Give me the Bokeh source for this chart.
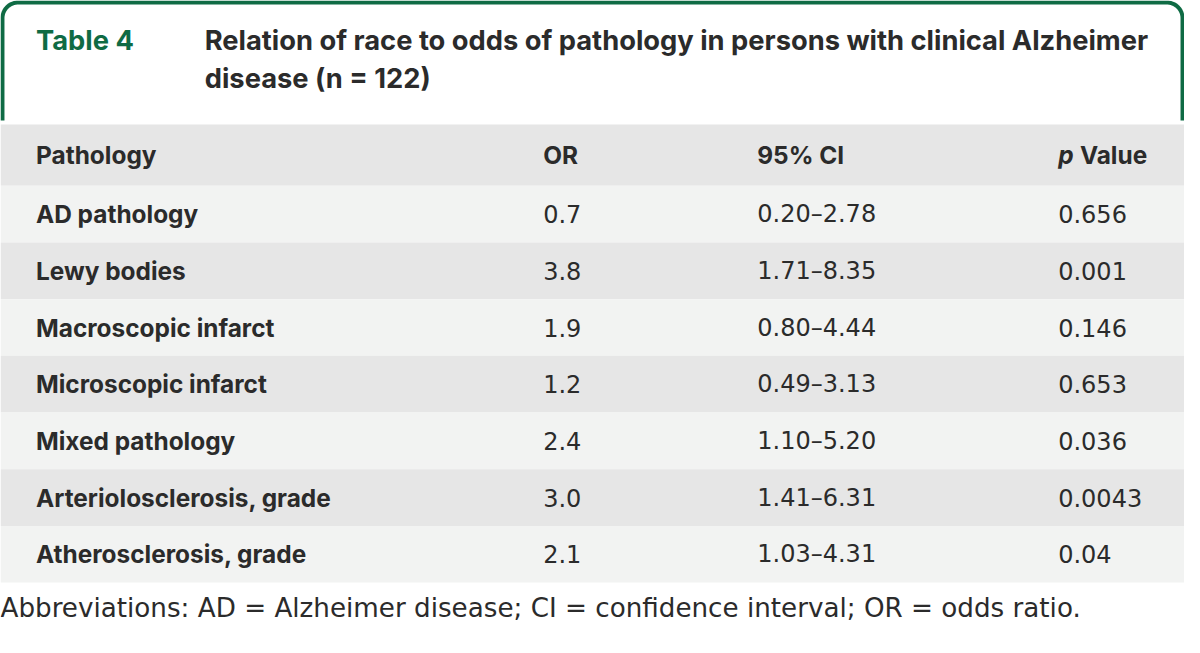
import numpy as np
from bokeh.plotting import figure
from bokeh.models import Range1d
from bokeh.core.properties import value
from bokeh.embed import file_html
from bokeh.resources import INLINE

# ---- data ----
table_label = "Table 4"
title_lines = ["Relation of race to odds of pathology in persons with clinical Alzheimer",
               "disease (n = 122)"]
columns = ["Pathology", "OR", "95% CI", "Value"]
pathology = ["AD pathology", "Lewy bodies", "Macroscopic infarct", "Microscopic infarct",
             "Mixed pathology", "Arteriolosclerosis, grade", "Atherosclerosis, grade"]
odds_ratio = ["0.7", "3.8", "1.9", "1.2", "2.4", "3.0", "2.1"]
ci_95 = ["0.20–2.78", "1.71–8.35", "0.80–4.44", "0.49–3.13", "1.10–5.20", "1.41–6.31", "1.03–4.31"]
p_values = ["0.656", "0.001", "0.146", "0.653", "0.036", "0.0043", "0.04"]
footnote = "Abbreviations: AD = Alzheimer disease; CI = confidence interval; OR = odds ratio."

# ---- style ----
FONT_B = "Inter"
FONT_R = "DejaVu Sans"
GREEN = "#0f6b44"
DARK = "#2b2b2b"
GRAY = "#e6e6e6"
LIGHT = "#f2f3f2"

W, H = 1200, 653
p = figure(x_range=Range1d(0, W), y_range=Range1d(H, 0), width=1184, height=637,
           output_backend="svg", toolbar_location=None, min_border=0)
p.axis.visible = False
p.grid.visible = False
p.outline_line_color = None
p.background_fill_color = "white"

# green bracket
r = 16
t = np.linspace(0, np.pi / 2, 20)
lx = [2] + list(2 + r - r * np.cos(t)) + list(W - 2 - r + r * np.sin(t)) + [W - 2]
ly = [123] + list(2 + r - r * np.sin(t)) + list(2 + r - r * np.cos(t)) + [123]
p.line(lx, ly, line_color=GREEN, line_width=4)

# header and rows
head_top, head_bot = 127, 190
row_h = 58.1
p.quad(left=[0], right=[W], top=[head_top], bottom=[head_bot], fill_color=GRAY, line_color=None)
n = len(pathology)
tops = [head_bot + i * row_h for i in range(n)]
bots = [t_ + row_h for t_ in tops]
fills = [LIGHT if i % 2 == 0 else GRAY for i in range(n)]
p.quad(left=[0] * n, right=[W] * n, top=tops, bottom=bots, fill_color=fills, line_color=None)

col_x = [36, 550, 767, 1072]
bold_size = "24.4px"
reg_size = "24px"

def txt(x, y, s, size, color=DARK, style="normal", font=FONT_B):
    p.text(x=x, y=y, text=s, text_font=value(font), text_font_size=size,
           text_font_style=style, text_color=color, text_baseline="middle", text_align="left")

# title
txt([36], [41], [table_label], "27.3px", GREEN, "bold")
txt([207, 207], [41, 80], title_lines, "27.3px", DARK, "bold")

# header
hy = (head_top + head_bot) / 2
txt(col_x[:3], [hy] * 3, columns[:3], bold_size, DARK, "bold")
txt([col_x[3]], [hy], ["p"], bold_size, DARK, "bold italic")
txt([col_x[3] + 22], [hy], [columns[3]], bold_size, DARK, "bold")

# body
ys = [t_ + row_h / 2 for t_ in tops]
txt([col_x[0]] * n, ys, pathology, bold_size, DARK, "bold")
txt([col_x[1]] * n, ys, odds_ratio, reg_size, font=FONT_R)
txt([col_x[2]] * n, ys, ci_95, reg_size, font=FONT_R)
txt([col_x[3]] * n, ys, p_values, reg_size, font=FONT_R)

# footnote
txt([0], [623], [footnote], "26.2px", font=FONT_R)

open("out.html", "w").write(file_html(p, INLINE))
